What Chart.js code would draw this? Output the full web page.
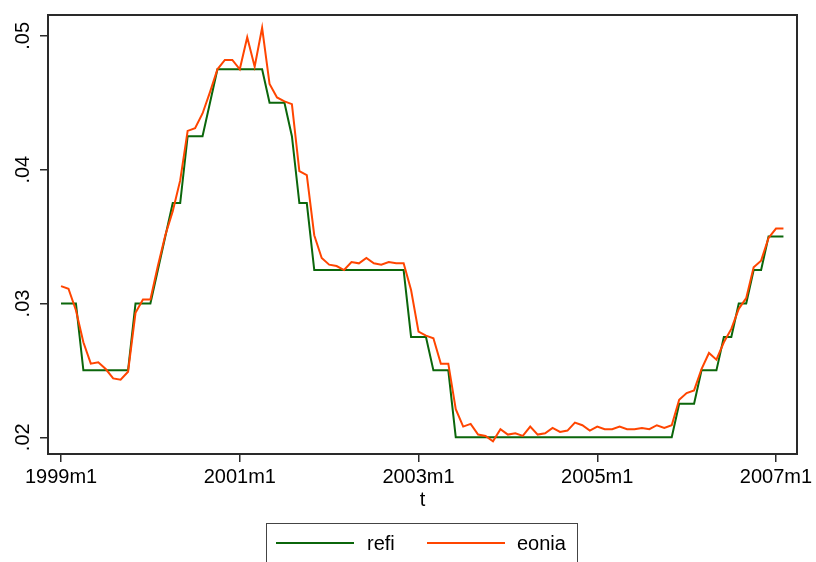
<!DOCTYPE html>
<html>
<head>
<meta charset="utf-8">
<script src="https://cdn.jsdelivr.net/npm/chart.js@4/dist/chart.umd.min.js"></script>
<style>
  body { margin: 0; background: #fff; }
  #wrap { position: relative; width: 816px; height: 562px; overflow: hidden; }
  #legend {
    position: absolute; left: 266px; top: 523px; width: 312px; height: 48px;
    border: 1px solid #444; box-sizing: border-box;
    font-family: "Liberation Sans", Arial, sans-serif; font-size: 20px; color: #000;
  }
  .swatch { position: absolute; top: 18px; width: 78px; height: 2px; }
  .lab { position: absolute; top: 7px; line-height: 24px; }
</style>
</head>
<body>
<div id="wrap">
  <canvas id="Chart1" width="816" height="562"></canvas>
  <div id="legend">
    <div class="swatch" style="left:9px;background:#0b660b"></div>
    <div class="lab" style="left:100px">refi</div>
    <div class="swatch" style="left:160px;background:#ff4500"></div>
    <div class="lab" style="left:250px">eonia</div>
  </div>
</div>
<script>
// monthly series, 1999m1 .. 2007m2
var refi = [
  0.03, 0.03, 0.03, 0.025, 0.025, 0.025, 0.025, 0.025, 0.025, 0.025, 0.03, 0.03,
  0.03, 0.0325, 0.035, 0.0375, 0.0375, 0.0425, 0.0425, 0.0425, 0.045, 0.0475, 0.0475, 0.0475,
  0.0475, 0.0475, 0.0475, 0.0475, 0.045, 0.045, 0.045, 0.0425, 0.0375, 0.0375, 0.0325, 0.0325,
  0.0325, 0.0325, 0.0325, 0.0325, 0.0325, 0.0325, 0.0325, 0.0325, 0.0325, 0.0325, 0.0325, 0.0275,
  0.0275, 0.0275, 0.025, 0.025, 0.025, 0.02, 0.02, 0.02, 0.02, 0.02, 0.02, 0.02,
  0.02, 0.02, 0.02, 0.02, 0.02, 0.02, 0.02, 0.02, 0.02, 0.02, 0.02, 0.02,
  0.02, 0.02, 0.02, 0.02, 0.02, 0.02, 0.02, 0.02, 0.02, 0.02, 0.02, 0.0225,
  0.0225, 0.0225, 0.025, 0.025, 0.025, 0.0275, 0.0275, 0.03, 0.03, 0.0325, 0.0325, 0.035,
  0.035, 0.035
];
var eonia = [
  0.0313, 0.0311, 0.0295, 0.0271, 0.0255, 0.0256, 0.0251, 0.0244, 0.0243, 0.0249, 0.0293, 0.0303,
  0.0303, 0.0328, 0.0351, 0.0369, 0.0392, 0.0429, 0.0431, 0.0442, 0.0458, 0.0475, 0.0482, 0.0482,
  0.0475, 0.0499, 0.0477, 0.0506, 0.0464, 0.0454, 0.0451, 0.0449, 0.0399, 0.0396, 0.0351, 0.0334,
  0.0329, 0.0328, 0.0325, 0.0331, 0.0330, 0.0334, 0.0330, 0.0329, 0.0331, 0.0330, 0.0330, 0.0310,
  0.0279, 0.0276, 0.0274, 0.0255, 0.0255, 0.0221, 0.0208, 0.0210, 0.0202, 0.0201, 0.0197, 0.0206,
  0.0202, 0.0203, 0.0201, 0.0208, 0.0202, 0.0203, 0.0207, 0.0204, 0.0205, 0.0211, 0.0209, 0.0205,
  0.0208, 0.0206, 0.0206, 0.0208, 0.0206, 0.0206, 0.0207, 0.0206, 0.0209, 0.0207, 0.0209, 0.0228,
  0.0233, 0.0235, 0.0251, 0.0263, 0.0258, 0.0271, 0.0281, 0.0296, 0.0304, 0.0327, 0.0332, 0.0349,
  0.0356, 0.0356
];
var xTickPos = [0, 24, 48, 72, 96];
var xTickLabels = ["1999m1", "2001m1", "2003m1", "2005m1", "2007m1"];
var yTicks = [0.02, 0.03, 0.04, 0.05];
var yTickLabels = [".02", ".03", ".04", ".05"];

function toPoints(arr) {
  var pts = [];
  for (var i = 0; i < arr.length; i++) pts.push({ x: i, y: arr[i] });
  return pts;
}

var font = { family: '"Liberation Sans", Arial, sans-serif', size: 20 };

// frame round the plot region
var framePlugin = {
  id: "frame",
  afterDraw: function (chart) {
    var a = chart.chartArea;
    var ctx = chart.ctx;
    ctx.save();
    ctx.strokeStyle = "#2a2a2a";
    ctx.lineWidth = 2;
    ctx.strokeRect(a.left, a.top, a.right - a.left, a.bottom - a.top);
    ctx.restore();
  }
};

var ctx = document.getElementById("Chart1").getContext("2d");
var myChart = new Chart(ctx, {
  type: "line",
  data: {
    datasets: [
      {
        label: "refi",
        data: toPoints(refi),
        borderColor: "#0b660b",
        borderWidth: 2,
        pointRadius: 0,
        tension: 0,
        order: 1
      },
      {
        label: "eonia",
        data: toPoints(eonia),
        borderColor: "#ff4500",
        borderWidth: 2,
        pointRadius: 0,
        tension: 0,
        order: 0
      }
    ]
  },
  options: {
    responsive: false,
    animation: false,
    layout: { padding: { left: 0, top: 7, right: 19, bottom: 0 } },
    plugins: { legend: { display: false }, tooltip: { enabled: false } },
    scales: {
      x: {
        type: "linear",
        min: -1.75,
        max: 98.82,
        afterBuildTicks: function (scale) {
          scale.ticks = xTickPos.map(function (v) { return { value: v }; });
        },
        afterFit: function (scale) { scale.height = 108; },
        ticks: {
          font: font,
          color: "#000",
          padding: 3,
          maxRotation: 0,
          callback: function (v) { return xTickLabels[xTickPos.indexOf(v)]; }
        },
        grid: { drawOnChartArea: false, tickLength: 8, color: "#2a2a2a", lineWidth: 1.5 },
        border: { display: false },
        title: { display: true, text: "t", font: font, color: "#000", padding: { top: 0, bottom: 50 } }
      },
      y: {
        min: 0.01875,
        max: 0.05156,
        afterBuildTicks: function (scale) {
          scale.ticks = yTicks.map(function (v) { return { value: v }; });
        },
        afterFit: function (scale) { scale.width = 48; },
        ticks: {
          font: font,
          color: "#000",
          padding: 3,
          minRotation: 90,
          maxRotation: 90,
          crossAlign: "center",
          callback: function (v) { return yTickLabels[yTicks.indexOf(v)]; }
        },
        grid: { drawOnChartArea: false, tickLength: 8, color: "#2a2a2a", lineWidth: 1.5 },
        border: { display: false }
      }
    }
  },
  plugins: [framePlugin]
});
</script>
</body>
</html>
